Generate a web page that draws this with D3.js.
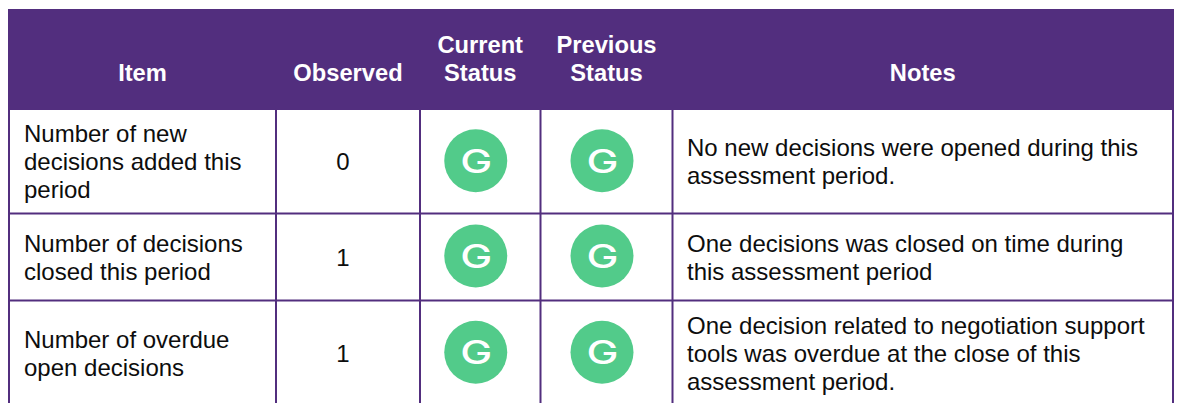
<!DOCTYPE html>
<html>
<head>
<meta charset="utf-8">
<script src="https://cdn.jsdelivr.net/npm/d3@7"></script>
<style>
html, body { margin: 0; padding: 0; background: #fff; overflow: hidden; }
text { font-family: "Liberation Sans", Arial, sans-serif; }
</style>
</head>
<body>
<svg id="chart" width="1177" height="403"></svg>
<script>
/*************************************************************************/

var headers = [["Item"], ["Observed"], ["Current", "Status"], ["Previous", "Status"], ["Notes"]];

var items = [
    ["Number of new", "decisions added this", "period"],
    ["Number of decisions", "closed this period"],
    ["Number of overdue", "open decisions"]
];
var observed = ["0", "1", "1"];
var currentStatus = ["G", "G", "G"];
var previousStatus = ["G", "G", "G"];
var notes = [
    ["No new decisions were opened during this", "assessment period."],
    ["One decisions was closed on time during", "this assessment period"],
    ["One decision related to negotiation support", "tools was overdue at the close of this", "assessment period."]
];

/*************************************************************************/

var purple = '#522e7e';
var green = '#52cb8a';
var ink = '#0d0d0d';

// column and row edges in pixels, the last row runs off the picture
var xEdge = d3.scaleOrdinal([0, 1, 2, 3, 4, 5], [9, 276, 420, 540.5, 672.5, 1173]);
var yEdge = d3.scaleOrdinal([0, 1, 2, 3, 4], [9, 110, 213.5, 300.5, 406]);

var colMid = i => (xEdge(i) + xEdge(i + 1)) / 2;
var rowMid = i => (yEdge(i) + yEdge(i + 1)) / 2;

var lineH = 28;
var rows = d3.range(items.length);
var svg = d3.select('#chart');

/*************************************************************************/

function multiline(parent, lines, x, y, anchor){
    // the block of lines is centred on y
    parent.append('text')
        .attr('text-anchor', anchor)
        .selectAll('tspan')
        .data(lines)
        .enter().append('tspan')
        .attr('x', x)
        .attr('y', (d, i) => y + (i - (lines.length - 1) / 2) * lineH + 8.5)
        .text(d => d);
}

/*************************************************************************/

// header band
svg.append('rect')
    .attr('x', xEdge(0) - 1)
    .attr('y', yEdge(0))
    .attr('width', xEdge(5) - xEdge(0) + 2)
    .attr('height', yEdge(1) - yEdge(0))
    .attr('fill', purple);

// grid lines
var grid = svg.append('g').attr('stroke', purple).attr('stroke-width', 2);

grid.selectAll('line.v')
    .data([0, 1, 2, 3, 4, 5])
    .enter().append('line')
    .attr('class', 'v')
    .attr('x1', d => xEdge(d)).attr('x2', d => xEdge(d))
    .attr('y1', yEdge(1)).attr('y2', yEdge(4));

grid.selectAll('line.h')
    .data([2, 3])
    .enter().append('line')
    .attr('class', 'h')
    .attr('x1', xEdge(0)).attr('x2', xEdge(5))
    .attr('y1', d => yEdge(d)).attr('y2', d => yEdge(d));

// header text, sits on the lower part of the band
var head = svg.append('g').attr('fill', '#fff').attr('font-weight', 'bold').attr('font-size', 23.7);
headers.forEach((lines, c) => {
    multiline(head, lines, colMid(c), 72.5 - (lines.length - 1) * lineH / 2, 'middle');
});

// body text
var body = svg.append('g').attr('fill', ink).attr('font-size', 24);
rows.forEach(r => {
    multiline(body, items[r], 24, rowMid(r + 1), 'start');
    multiline(body, [observed[r]], colMid(1) - 5, rowMid(r + 1), 'middle');
    multiline(body, notes[r], 687, rowMid(r + 1), 'start');
});

// status badges
[currentStatus, previousStatus].forEach((vals, k) => {
    var g = svg.append('g');
    var cx = colMid(k + 2) - 4.5;
    g.selectAll('circle')
        .data(vals)
        .enter().append('circle')
        .attr('cx', cx)
        .attr('cy', (d, i) => rowMid(i + 1) - 1)
        .attr('r', 31.5)
        .attr('fill', green);
    g.selectAll('text')
        .data(vals)
        .enter().append('text')
        .attr('x', cx - 15.5)
        .attr('y', (d, i) => rowMid(i + 1) + 11)
        .attr('textLength', 32)
        .attr('lengthAdjust', 'spacingAndGlyphs')
        .attr('font-size', 33)
        .attr('font-weight', 500)
        .style('font-family', 'Inter')
        .attr('fill', '#fff')
        .text(d => d);
});
</script>
</body>
</html>
